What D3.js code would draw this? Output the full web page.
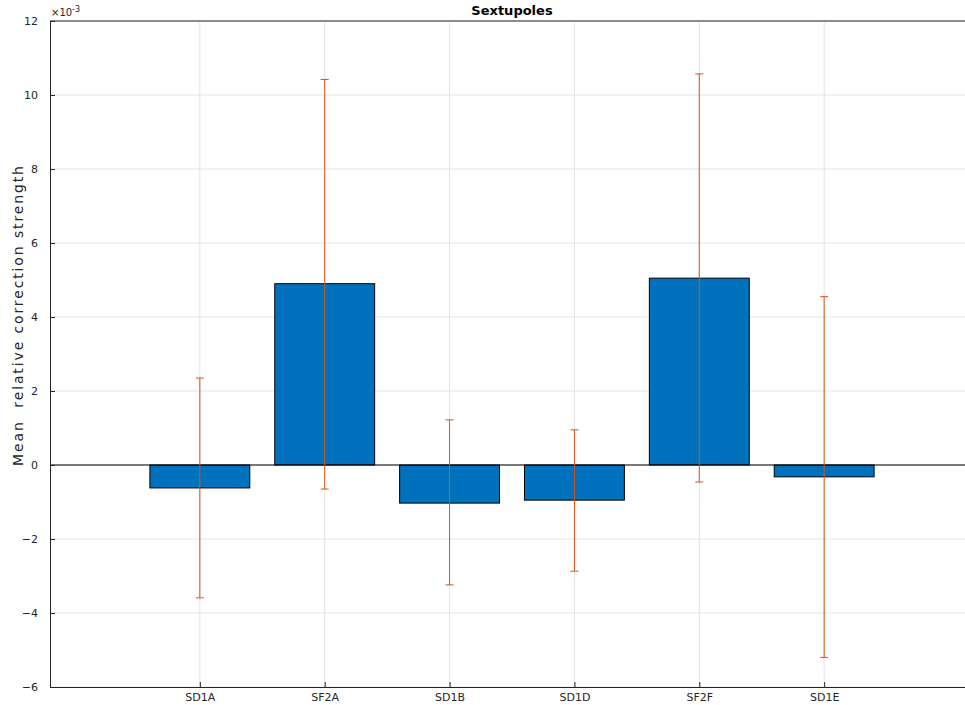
<!DOCTYPE html>
<html>
<head>
<meta charset="utf-8">
<script src="https://cdn.jsdelivr.net/npm/d3@7"></script>
<style>
  body { margin: 0; background: #fff; }
  svg text { font-family: "DejaVu Sans", sans-serif; }
</style>
</head>
<body>
<div id="chart"></div>
<script>
// values are in units of 1e-3
const categories = ["SD1A", "SF2A", "SD1B", "SD1D", "SF2F", "SD1E"];
const means = [-0.62, 4.9, -1.03, -0.95, 5.05, -0.32];
const errUpper = [2.35, 10.42, 1.22, 0.95, 10.57, 4.55];
const errLower = [-3.59, -0.65, -3.24, -2.87, -0.46, -5.2];
const yTicks = [-6, -4, -2, 0, 2, 4, 6, 8, 10, 12];

const COLORS = {
  bar: "#0072bd",
  err: "#d95319",
  axis: "#262626",
  grid: "#e3e3e3",
};

const width = 965;
const height = 705;
const margin = { left: 50, top: 21, bottom: 18 };
const plotRight = 974;
const plotBottom = height - margin.bottom;

const svg = d3
  .select("#chart")
  .append("svg")
  .attr("width", width)
  .attr("height", height);

const x = d3.scaleLinear().domain([-0.2, 7.2]).range([margin.left, plotRight]);
const y = d3.scaleLinear().domain([-6, 12]).range([plotBottom, margin.top]);
const barW = (x(1) - x(0)) * 0.8;
const pos = categories.map((c, i) => i + 1);

// grid
svg
  .append("g")
  .selectAll("line")
  .data(yTicks)
  .join("line")
  .attr("x1", margin.left)
  .attr("x2", plotRight)
  .attr("y1", (d) => y(d))
  .attr("y2", (d) => y(d))
  .attr("stroke", COLORS.grid)
  .attr("stroke-width", 1);

svg
  .append("g")
  .selectAll("line")
  .data(pos)
  .join("line")
  .attr("x1", (d) => x(d))
  .attr("x2", (d) => x(d))
  .attr("y1", margin.top)
  .attr("y2", plotBottom)
  .attr("stroke", COLORS.grid)
  .attr("stroke-width", 1);

// bars
svg
  .append("g")
  .selectAll("rect")
  .data(means)
  .join("rect")
  .attr("x", (d, i) => x(pos[i]) - barW / 2)
  .attr("width", barW)
  .attr("y", (d) => y(Math.max(0, d)))
  .attr("height", (d) => Math.abs(y(d) - y(0)))
  .attr("fill", COLORS.bar)
  .attr("stroke", "#000")
  .attr("stroke-width", 1);

// baseline
svg
  .append("line")
  .attr("x1", margin.left)
  .attr("x2", plotRight)
  .attr("y1", y(0))
  .attr("y2", y(0))
  .attr("stroke", "#000")
  .attr("stroke-width", 1);

// error bars
const eb = svg.append("g").attr("stroke", COLORS.err).attr("stroke-width", 1);
eb.selectAll(".stem")
  .data(pos)
  .join("line")
  .attr("class", "stem")
  .attr("x1", (d) => x(d))
  .attr("x2", (d) => x(d))
  .attr("y1", (d, i) => y(errUpper[i]))
  .attr("y2", (d, i) => y(errLower[i]));
eb.selectAll(".capTop")
  .data(pos)
  .join("line")
  .attr("class", "capTop")
  .attr("x1", (d) => x(d) - 4)
  .attr("x2", (d) => x(d) + 4)
  .attr("y1", (d, i) => y(errUpper[i]))
  .attr("y2", (d, i) => y(errUpper[i]));
eb.selectAll(".capBot")
  .data(pos)
  .join("line")
  .attr("class", "capBot")
  .attr("x1", (d) => x(d) - 4)
  .attr("x2", (d) => x(d) + 4)
  .attr("y1", (d, i) => y(errLower[i]))
  .attr("y2", (d, i) => y(errLower[i]));

// axes
const xAxis = d3
  .axisBottom(x)
  .tickValues(pos)
  .tickFormat((d) => categories[d - 1])
  .tickSizeInner(-5)
  .tickSizeOuter(0)
  .tickPadding(6);
const gx = svg
  .append("g")
  .attr("transform", `translate(0,${plotBottom})`)
  .call(xAxis);

const yAxis = d3
  .axisLeft(y)
  .tickValues(yTicks)
  .tickSizeInner(-5)
  .tickSizeOuter(0)
  .tickPadding(12);
const gy = svg
  .append("g")
  .attr("transform", `translate(${margin.left},0)`)
  .call(yAxis);

[gx, gy].forEach((g) => {
  g.select(".domain").attr("stroke", COLORS.axis);
  g.selectAll(".tick line").attr("stroke", COLORS.axis);
  g.selectAll(".tick text")
    .attr("fill", COLORS.axis)
    .style("font-size", "11px")
    .style("font-family", "DejaVu Sans, sans-serif");
});

// top border
svg
  .append("line")
  .attr("x1", margin.left)
  .attr("x2", plotRight)
  .attr("y1", margin.top)
  .attr("y2", margin.top)
  .attr("stroke", COLORS.axis)
  .attr("stroke-width", 1);

// exponent label
const expo = svg
  .append("text")
  .attr("x", margin.left + 1)
  .attr("y", margin.top - 5)
  .attr("fill", COLORS.axis)
  .style("font-size", "10px");
expo.append("tspan").text("\u00d710");
expo
  .append("tspan")
  .attr("dy", -4)
  .style("font-size", "8px")
  .text("-3");

// title
svg
  .append("text")
  .attr("x", 512)
  .attr("y", 15)
  .attr("text-anchor", "middle")
  .attr("fill", "#000")
  .style("font-size", "13px")
  .style("font-weight", "bold")
  .text("Sextupoles");

// y label
svg
  .append("text")
  .attr("transform", "translate(23,316) rotate(-90)")
  .attr("text-anchor", "middle")
  .attr("fill", COLORS.axis)
  .style("font-size", "14px")
  .attr("textLength", 300)
  .attr("lengthAdjust", "spacing")
  .attr("xml:space", "preserve")
  .text("Mean  relative correction strength");
</script>
</body>
</html>
